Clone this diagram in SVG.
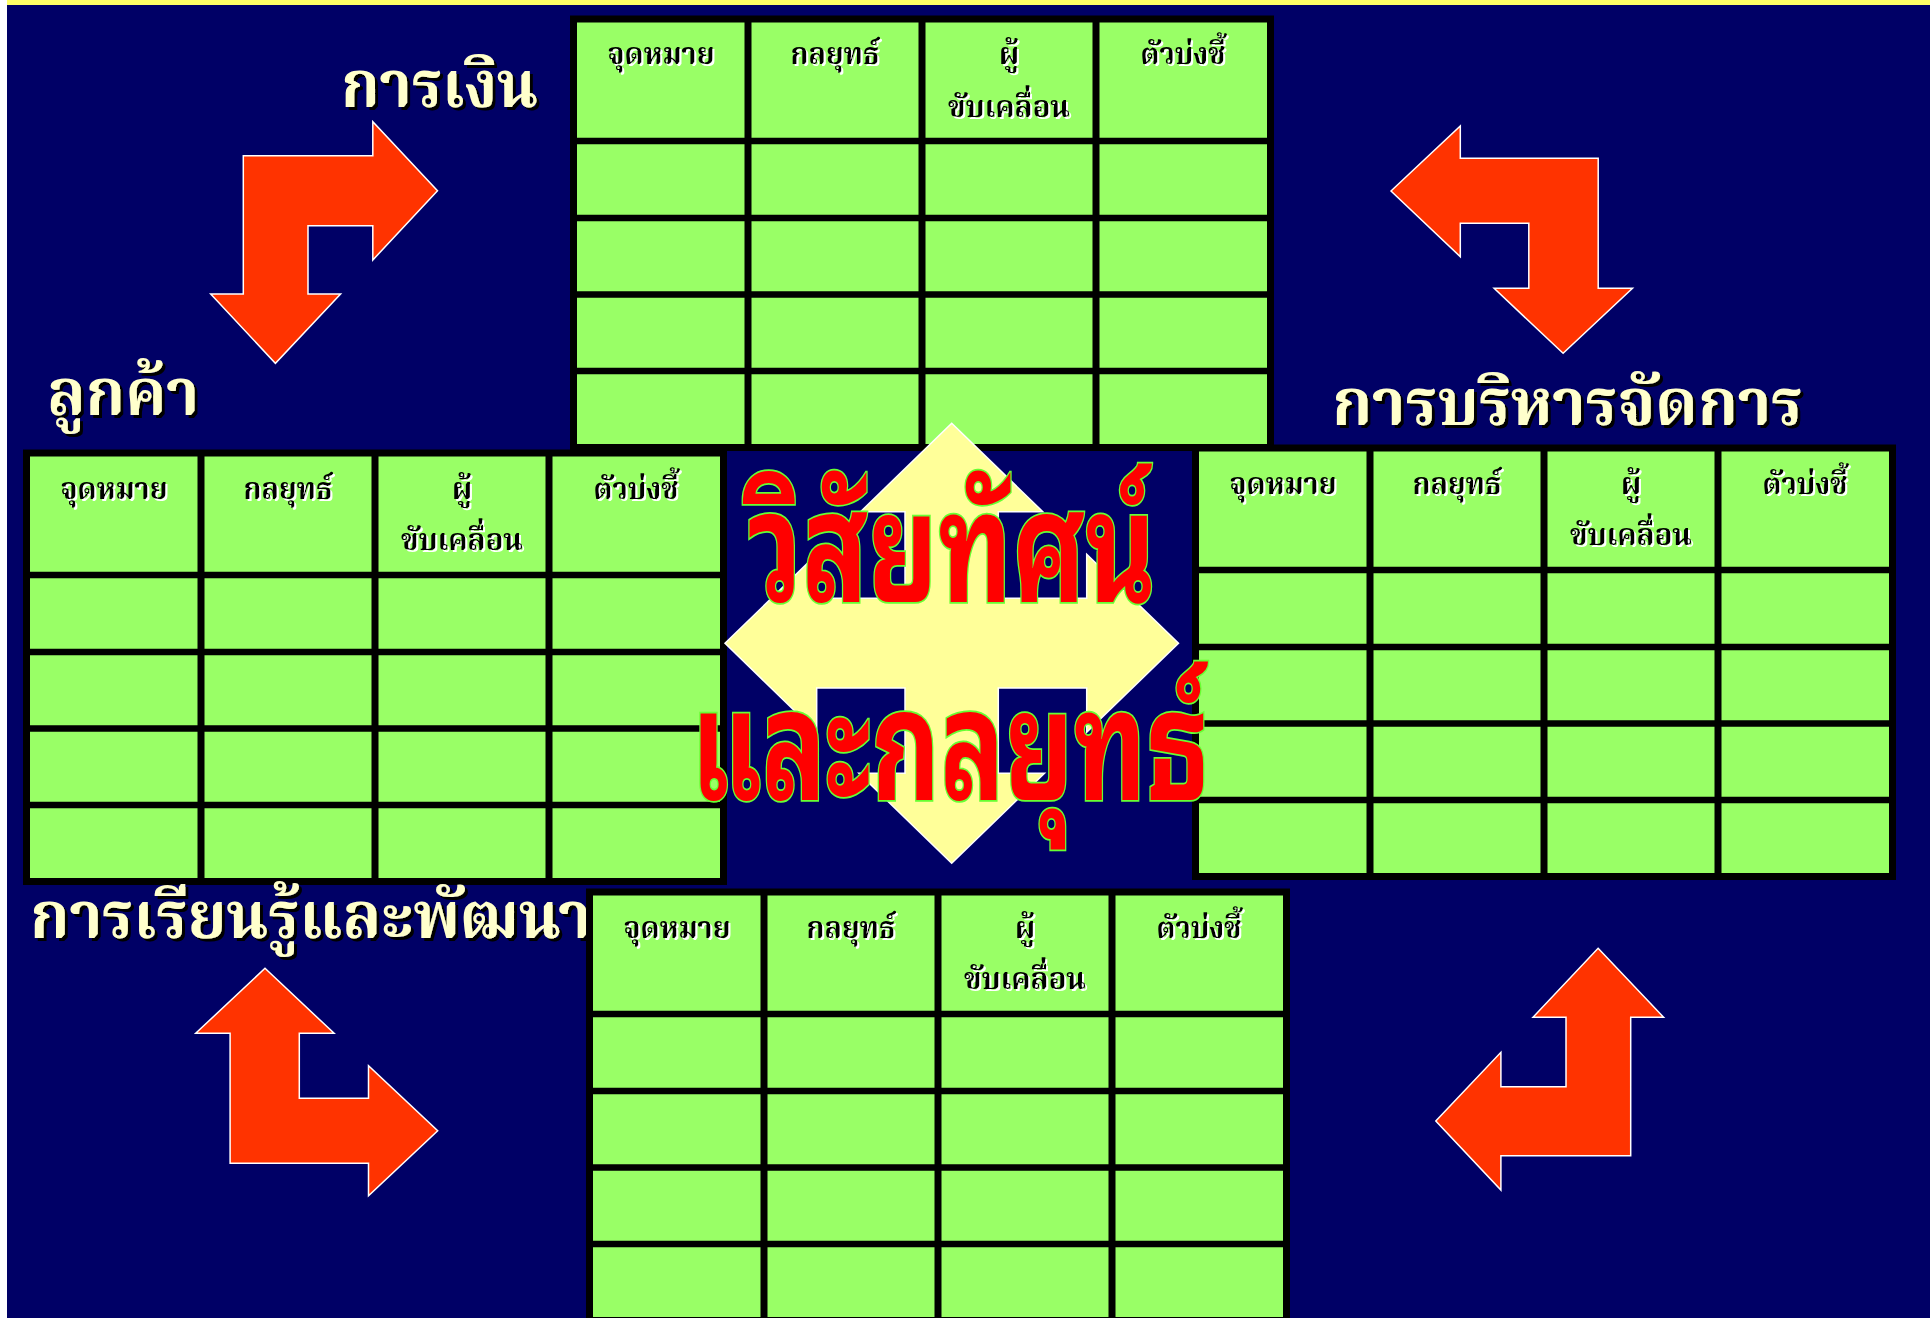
<svg xmlns="http://www.w3.org/2000/svg" xmlns:xlink="http://www.w3.org/1999/xlink" width="1930" height="1318" viewBox="0 0 1930 1318">
<style>
.bg{fill:#000066}
.arrow{fill:#FF3300;stroke:#FFFFFF;stroke-width:1.5;stroke-linejoin:miter}
.cell{fill:#99FF66}
.grid{stroke:#000000;fill:none}
.hd{font-family:"Noto Serif Thai","Noto Sans Thai Looped","Noto Sans Thai","Kinnari","DejaVu Serif",serif;font-weight:bold;font-size:30px;text-anchor:middle;fill:#000000;filter:url(#shWhite)}
.cat{font-family:"Noto Serif Thai","Noto Sans Thai","Kinnari","Norasi","DejaVu Serif",serif;font-weight:bold;font-size:66px;fill:#FFFFCC;filter:url(#shBlack)}
.title{font-family:"Noto Sans Thai Looped","Loma","Noto Sans Thai","Garuda","DejaVu Sans",sans-serif;font-weight:bold;font-size:153px;fill:#FF0000;stroke:#66FF33;stroke-width:3.5;paint-order:stroke;text-anchor:middle}
.quad{fill:#FFFF99;stroke:#FFFFFF;stroke-width:1.5}
</style>
<defs>
<filter id="shWhite" x="-20%" y="-40%" width="140%" height="180%">
<feDropShadow dx="2" dy="2" stdDeviation="0" flood-color="#FFFFFF" flood-opacity="1"/>
</filter>
<filter id="shBlack" x="-10%" y="-30%" width="120%" height="160%">
<feDropShadow dx="3" dy="3" stdDeviation="0" flood-color="#000000" flood-opacity="1"/>
</filter>
<g id="grid">
<rect class="cell" x="0" y="0" width="704" height="434"/>
<rect class="grid" x="3.5" y="3" width="697" height="428.5" stroke-width="7"/>
<path class="grid" stroke-width="7" d="M178 0V434M352 0V434M526 0V434"/>
<path class="grid" stroke-width="6.5" d="M0 125H704M0 202H704M0 278.5H704M0 355H704"/>
</g>
</defs>

<rect x="0" y="0" width="1930" height="1318" fill="#FFFFFF"/>
<rect class="bg" x="7" y="0" width="1923" height="1318"/>
<rect x="7" y="0" width="1923" height="5" fill="#FFFF66"/>

<g id="arrows">
<polygon id="arrow-finance-customer" class="arrow" points="243.3,155.7 372.8,155.7 372.8,121.7 437.5,190.7 372.8,260 372.8,225.7 308,225.7 308,294 340.6,294 275.4,363.3 210.7,294 243.3,294"/>
<polygon id="arrow-management" class="arrow" points="1391,191 1460.3,126 1460.3,158.3 1598.2,158.3 1598.2,288.3 1632.5,288.3 1563.1,353.3 1494.1,288.3 1528.8,288.3 1528.8,223.3 1460.3,223.3 1460.3,256.7"/>
<polygon id="arrow-learning" class="arrow" points="265,968.3 334.1,1033.3 299.3,1033.3 299.3,1098.3 368.5,1098.3 368.5,1065.7 437.7,1130.7 368.5,1195.7 368.5,1163.3 230.1,1163.3 230.1,1033.3 195.7,1033.3"/>
<polygon id="arrow-bottom-right" class="arrow" points="1598.1,948.3 1663.6,1017.3 1630.7,1017.3 1630.7,1155.7 1500.9,1155.7 1500.9,1190 1435.8,1121 1500.9,1052.3 1500.9,1086.7 1566,1086.7 1566,1017.3 1533,1017.3"/>
</g>

<g id="label-finance">
<text class="cat" x="341" y="107" textLength="197" lengthAdjust="spacingAndGlyphs">การเงิน</text>
</g>
<g id="label-customer">
<text class="cat" x="47" y="415" textLength="152" lengthAdjust="spacingAndGlyphs">ลูกค้า</text>
</g>
<g id="label-management">
<text class="cat" x="1332" y="425" textLength="471" lengthAdjust="spacingAndGlyphs">การบริหารจัดการ</text>
</g>

<g id="table-finance" transform="translate(570,16)">
<use xlink:href="#grid" href="#grid"/>
<text class="hd" x="91" y="48" textLength="107" lengthAdjust="spacingAndGlyphs">จุดหมาย</text>
<text class="hd" x="265" y="48" textLength="89" lengthAdjust="spacingAndGlyphs">กลยุทธ์</text>
<text class="hd" x="439" y="48">ผู้</text>
<text class="hd" x="439" y="101" textLength="122" lengthAdjust="spacingAndGlyphs">ขับเคลื่อน</text>
<text class="hd" x="613" y="48" textLength="85" lengthAdjust="spacingAndGlyphs">ตัวบ่งชี้</text>
</g>

<g id="table-customer" transform="translate(23,450)">
<use xlink:href="#grid" href="#grid"/>
<text class="hd" x="91" y="49" textLength="107" lengthAdjust="spacingAndGlyphs">จุดหมาย</text>
<text class="hd" x="265" y="49" textLength="89" lengthAdjust="spacingAndGlyphs">กลยุทธ์</text>
<text class="hd" x="439" y="49">ผู้</text>
<text class="hd" x="439" y="100" textLength="122" lengthAdjust="spacingAndGlyphs">ขับเคลื่อน</text>
<text class="hd" x="613" y="49" textLength="85" lengthAdjust="spacingAndGlyphs">ตัวบ่งชี้</text>
</g>

<g id="label-learning">
<text class="cat" x="30" y="938" textLength="561" lengthAdjust="spacingAndGlyphs">การเรียนรู้และพัฒนา</text>
</g>

<g id="table-management" transform="translate(1192,445)">
<use xlink:href="#grid" href="#grid"/>
<text class="hd" x="91" y="49" textLength="107" lengthAdjust="spacingAndGlyphs">จุดหมาย</text>
<text class="hd" x="265" y="49" textLength="89" lengthAdjust="spacingAndGlyphs">กลยุทธ์</text>
<text class="hd" x="439" y="49">ผู้</text>
<text class="hd" x="439" y="100" textLength="122" lengthAdjust="spacingAndGlyphs">ขับเคลื่อน</text>
<text class="hd" x="613" y="49" textLength="85" lengthAdjust="spacingAndGlyphs">ตัวบ่งชี้</text>
</g>

<g id="table-learning" transform="translate(586,889)">
<use xlink:href="#grid" href="#grid"/>
<text class="hd" x="91" y="49" textLength="107" lengthAdjust="spacingAndGlyphs">จุดหมาย</text>
<text class="hd" x="265" y="49" textLength="89" lengthAdjust="spacingAndGlyphs">กลยุทธ์</text>
<text class="hd" x="439" y="49">ผู้</text>
<text class="hd" x="439" y="100" textLength="122" lengthAdjust="spacingAndGlyphs">ขับเคลื่อน</text>
<text class="hd" x="613" y="49" textLength="85" lengthAdjust="spacingAndGlyphs">ตัวบ่งชี้</text>
</g>

<g id="center-vision">
<polygon class="quad" points="951.7,423.3 1042.8,511.7 998.3,511.7 998.3,598.3 1086.7,598.3 1086.7,554.3 1178.5,643.3 1086.7,732.3 1086.7,688 998.3,688 998.3,773.3 1044.5,773.3 951.7,863.3 858.9,773.3 905,773.3 905,688 816.7,688 816.7,732.3 725,643.3 816.7,554.3 816.7,598.3 905,598.3 905,511.7 860.6,511.7"/>
<text class="title" x="952" y="602" textLength="408" lengthAdjust="spacingAndGlyphs">วิสัยทัศน์</text>
<text class="title" x="950" y="800" textLength="518" lengthAdjust="spacingAndGlyphs">และกลยุทธ์</text>
</g>
</svg>
